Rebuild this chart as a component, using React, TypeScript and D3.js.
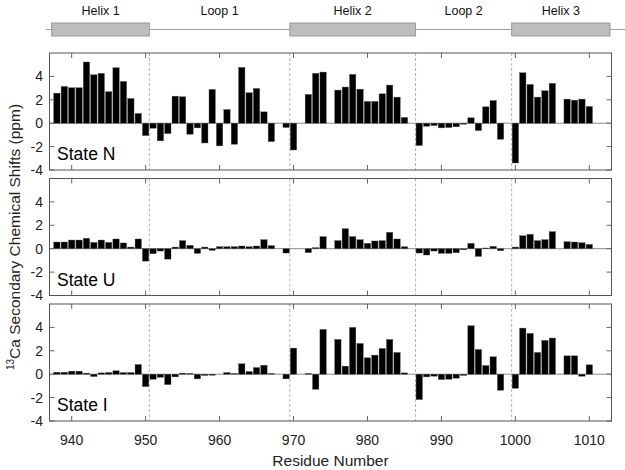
import React from "react";
import * as d3 from "d3";

const width = 625;
const height = 470;
const margin = { left: 49.5, right: 13.5 };
const panelTops = [53, 178.5, 304];
const panelH = 117;

// residue numbers, one per bar slot
const residues = [
  938, 939, 940, 941, 942, 943, 944, 945, 946, 947, 948, 949,
  950, 951, 952, 953, 954, 955, 956, 957, 958, 959,
  960, 961, 962, 963, 964, 965, 966, 967, 968, 969,
  970, 971, 972, 973, 974, 975, 976, 977, 978, 979,
  980, 981, 982, 983, 984, 985, 986, 987, 988, 989,
  990, 991, 992, 993, 994, 995, 996, 997, 998, 999,
  1000, 1001, 1002, 1003, 1004, 1005, 1006, 1007, 1008, 1009, 1010,
];

// null = no value for that residue
const stateN = [
  2.57, 3.14, 3.03, 3.03, 5.23, 4.14, 4.26, 2.69, 4.74, 3.57, 2.11, 0.83,
  -1.06, -0.43, -1.51, -0.89, 2.31, 2.26, -0.94, -0.4, -1.69, 2.89,
  -1.94, 1.17, -1.8, 4.77, 2.6, 2.97, 0.97, -1.57, null, -0.37,
  -2.29, null, 2.46, 4.26, 4.37, null, 2.83, 3.09, 4.17, 2.91,
  1.86, 1.86, 2.51, 3.26, 2.23, 0.49, null, -1.91, -0.26, -0.2,
  -0.4, -0.37, -0.31, -0.09, 0.46, -0.63, 1.4, 1.94, -1.37, null,
  -3.4, 4.31, 3.31, 2.23, 2.77, 3.4, null, 2.06, 1.97, 2.06, 1.43,
];
const stateU = [
  0.57, 0.57, 0.74, 0.74, 0.89, 0.54, 0.74, 0.54, 0.83, 0.49, 0.14, 0.83,
  -1.06, -0.43, -0.2, -0.89, 0.14, 0.69, 0.29, -0.4, 0.14, -0.14,
  0.17, 0.17, 0.17, 0.23, 0.17, 0.23, 0.77, 0.26, null, -0.37,
  null, null, -0.34, 0.09, 1.03, null, 0.69, 1.71, 1.03, 0.77,
  0.46, 0.66, 0.69, 1.4, 0.83, 0.17, null, -0.37, -0.54, -0.2,
  -0.4, -0.4, -0.34, -0.09, 0.46, -0.66, 0.06, 0.2, -0.17, null,
  0.14, 1.11, 1.23, 0.69, 0.77, 1.46, null, 0.6, 0.57, 0.51, 0.37,
];
const stateI = [
  0.17, 0.17, 0.26, 0.26, 0.09, -0.2, 0.11, 0.14, 0.29, 0.14, 0.14, 0.83,
  -1.06, -0.43, -0.26, -0.89, -0.23, 0.09, 0.06, -0.4, -0.11, -0.09,
  null, 0.14, 0.06, 0.89, 0.23, 0.57, 0.77, 0.06, null, -0.4,
  2.23, null, 0.06, -1.29, 3.83, null, 2.97, 0.69, 4.0, 2.63,
  1.4, 1.63, 2.2, 2.97, 1.86, 0.11, null, -2.17, -0.23, -0.17,
  -0.46, -0.43, -0.34, -0.11, 4.14, 2.11, 0.74, 1.49, -1.37, null,
  -1.2, 3.94, 3.49, 1.86, 2.89, 3.09, null, 1.57, 1.57, -0.17, 0.8,
];

const panels = [
  { label: "State N", values: stateN },
  { label: "State U", values: stateU },
  { label: "State I", values: stateI },
];

const xTicks = [940, 950, 960, 970, 980, 990, 1000, 1010];
const yTicks = [-4, -2, 0, 2, 4];
const boundaries = [950.5, 969.5, 986.5, 999.5];

// secondary structure segments
const segments = [
  { name: "Helix 1", start: 937.3, end: 950.5, helix: true },
  { name: "Loop 1", start: 950.5, end: 969.5, helix: false },
  { name: "Helix 2", start: 969.5, end: 986.5, helix: true },
  { name: "Loop 2", start: 986.5, end: 999.5, helix: false },
  { name: "Helix 3", start: 999.5, end: 1012.8, helix: true },
];

const font = "Arial, 'Liberation Sans', sans-serif";

export default function App() {
  const x = d3.scaleLinear().domain([937, 1013]).range([margin.left, width - margin.right]);
  const bw = (x(1) - x(0)) * 0.86;
  const lineY = 29.5;

  return (
    <div style={{ position: "absolute", left: 0, top: 0 }}>
      <svg width={width} height={height} style={{ fontFamily: font, background: "#fff" }}>
        {/* secondary structure bar */}
        <line x1={x(936.5)} x2={width} y1={lineY} y2={lineY} stroke="#a0a0a0" strokeWidth={1} />
        {segments.map((s) => (
          <g key={s.name}>
            {s.helix && (
              <rect
                x={x(s.start)}
                y={23}
                width={x(s.end) - x(s.start)}
                height={13}
                fill="#bdbdbd"
                stroke="#9a9a9a"
                strokeWidth={1}
              />
            )}
            <text
              x={(x(s.start) + x(s.end)) / 2}
              y={15}
              fontSize={12.5}
              textAnchor="middle"
              fill="#111"
            >
              {s.name}
            </text>
          </g>
        ))}

        {panels.map((p, i) => {
          const top = panelTops[i];
          const y = d3.scaleLinear().domain([-4, 6]).range([top + panelH, top]);
          return (
            <g key={p.label}>
              {boundaries.map((b) => (
                <line
                  key={b}
                  x1={x(b)}
                  x2={x(b)}
                  y1={top}
                  y2={top + panelH}
                  stroke="#b5b5b5"
                  strokeWidth={1}
                  strokeDasharray="3,2"
                />
              ))}
              <line x1={x(937)} x2={x(1013)} y1={y(0)} y2={y(0)} stroke="#8a8a8a" strokeWidth={1} />
              {p.values.map((v, j) =>
                v === null ? null : (
                  <rect
                    key={j}
                    x={x(residues[j]) - bw / 2}
                    y={y(Math.max(0, v))}
                    width={bw}
                    height={Math.abs(y(v) - y(0))}
                    fill="#000"
                    stroke="#555"
                    strokeWidth={0.4}
                  />
                )
              )}
              {/* ticks inside */}
              {xTicks.map((t) => (
                <g key={t} stroke="#666" strokeWidth={1}>
                  <line x1={x(t)} x2={x(t)} y1={top} y2={top + 5} />
                  <line x1={x(t)} x2={x(t)} y1={top + panelH} y2={top + panelH - 5} />
                </g>
              ))}
              {yTicks.map((t) => (
                <g key={t}>
                  <line x1={margin.left} x2={margin.left + 5} y1={y(t)} y2={y(t)} stroke="#666" />
                  <line
                    x1={width - margin.right}
                    x2={width - margin.right - 5}
                    y1={y(t)}
                    y2={y(t)}
                    stroke="#666"
                  />
                  <text x={43} y={y(t)} dy="0.35em" fontSize={14} textAnchor="end" fill="#222">
                    {t}
                  </text>
                </g>
              ))}
              <rect
                x={margin.left}
                y={top}
                width={width - margin.right - margin.left}
                height={panelH}
                fill="none"
                stroke="#555"
                strokeWidth={1}
              />
              <text x={57} y={top + panelH - 10} fontSize={17.5} fill="#000">
                {p.label}
              </text>
            </g>
          );
        })}

        {xTicks.map((t) => (
          <text key={t} x={x(t)} y={445} fontSize={14} textAnchor="middle" fill="#222">
            {t}
          </text>
        ))}
        <text x={(margin.left + width - margin.right) / 2} y={466} fontSize={15.5} textAnchor="middle" fill="#222">
          Residue Number
        </text>
        <text
          transform={`translate(20, ${(panelTops[0] + panelTops[2] + panelH) / 2}) rotate(-90)`}
          fontSize={15.5}
          textAnchor="middle"
          fill="#222"
        >
          <tspan fontSize={10} dy="-6">13</tspan>
          <tspan dy="6">Ca Secondary Chemical Shifts (ppm)</tspan>
        </text>
      </svg>
    </div>
  );
}
